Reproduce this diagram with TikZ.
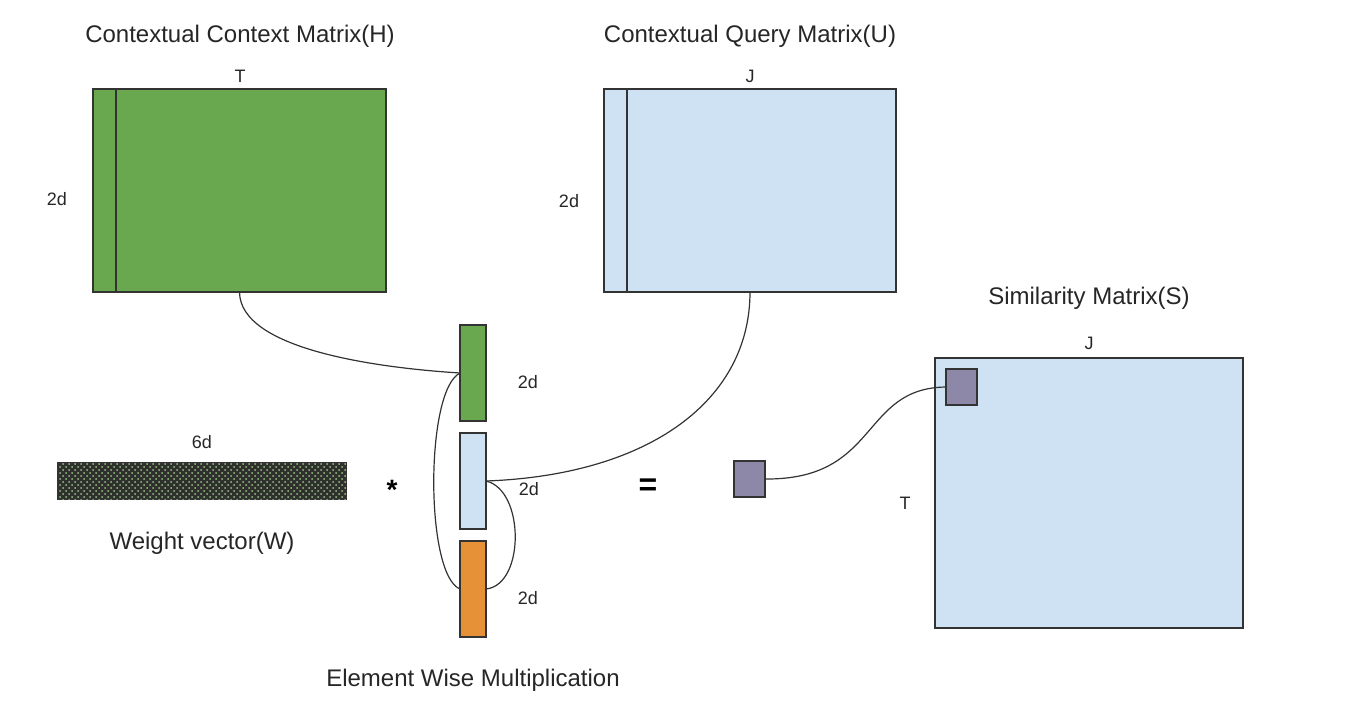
\documentclass[tikz,border=0pt]{standalone}
\usepackage{fontspec}
\setmainfont{Liberation Sans}
\usepackage{tikz}
\usetikzlibrary{patterns}

\definecolor{hgreen}{HTML}{6AA84F}
\definecolor{ublue}{HTML}{CFE2F3}
\definecolor{sorange}{HTML}{E69138}
\definecolor{spurple}{HTML}{8E88A8}
\definecolor{wdark}{HTML}{2F302E}
\definecolor{edge}{HTML}{333333}

\tikzset{
  box/.style={draw=edge, line width=0.7pt, inner sep=0pt, outer sep=0pt},
  title/.style={font=\fontsize{12}{14}\selectfont, text=black!85},
  dim/.style={font=\fontsize{9}{10}\selectfont, text=black!85},
  link/.style={draw=edge, line width=0.6pt}
}

\begin{document}
\begin{tikzpicture}[x=0.5pt,y=-0.5pt]
\useasboundingbox (0,0) rectangle (1346,719);

% context matrix
\node[box, fill=hgreen, minimum width=146.5pt, minimum height=101.5pt] (H) at (239.5,190.5) {};
\draw[edge, line width=0.6pt] ([xshift=11.5pt]H.north west) -- ([xshift=11.5pt]H.south west);
\node[title] (Htitle) at (240,36) {Contextual Context Matrix(H)};
\node[dim] (HT) at (240,76) {T};
\node[dim] (H2d) at (57,199) {2d};

% query matrix
\node[box, fill=ublue, minimum width=146pt, minimum height=101.5pt] (U) at (750,190.5) {};
\draw[edge, line width=0.6pt] ([xshift=11.5pt]U.north west) -- ([xshift=11.5pt]U.south west);
\node[title] (Utitle) at (750,36) {Contextual Query Matrix(U)};
\node[dim] (UJ) at (750,76) {J};
\node[dim] (U2d) at (569,201) {2d};

% weight vector
\node[box, fill=wdark, minimum width=144pt, minimum height=18pt] (W) at (202,481) {};
\fill[pattern=crosshatch dots, pattern color=hgreen!70] (W.north west) rectangle (W.south east);
\node[dim] (W6d) at (202,442) {6d};
\node[title] (Wtitle) at (202,543) {Weight vector(W)};
\node[font=\fontsize{14}{14}\selectfont\bfseries] (star) at (392,490) {*};

% stacked vectors
\node[box, fill=hgreen, minimum width=13pt, minimum height=48pt] (h) at (473,373) {};
\node[box, fill=ublue, minimum width=13pt, minimum height=48pt] (u) at (473,481) {};
\node[box, fill=sorange, minimum width=13pt, minimum height=48pt] (hu) at (473,589) {};
\node[dim] (h2d) at (528,382) {2d};
\node[dim] (u2d) at (529,489) {2d};
\node[dim] (hu2d) at (528,598) {2d};
\node[title] (mult) at (473,680) {Element Wise Multiplication};
\node[font=\fontsize{16}{16}\selectfont\bfseries] (eq) at (648,487) {=};

% similarity matrix
\node[box, fill=ublue, minimum width=154pt, minimum height=135pt] (S) at (1089,493) {};
\node[box, fill=spurple, minimum width=15.5pt, minimum height=18pt] (sij) at (961.5,387) {};
\node[title] (Stitle) at (1089,298) {Similarity Matrix(S)};
\node[dim] (SJ) at (1089,343) {J};
\node[dim] (ST) at (905,503) {T};
\node[box, fill=spurple, minimum width=15.5pt, minimum height=18pt] (s) at (749.5,479) {};

% connectors
\draw[link] (H.south) .. controls (240,350) and (380,368) .. (h.west);
\draw[link] (h.west) .. controls (425,390) and (425,575) .. (hu.west);
\draw[link] (u.east) .. controls (650,475) and (750,400) .. (U.south);
\draw[link] (u.east) .. controls (525,490) and (525,585) .. (hu.east);
\draw[link] (s.east) .. controls (880,480) and (860,388) .. (sij.west);

\end{tikzpicture}
\end{document}
